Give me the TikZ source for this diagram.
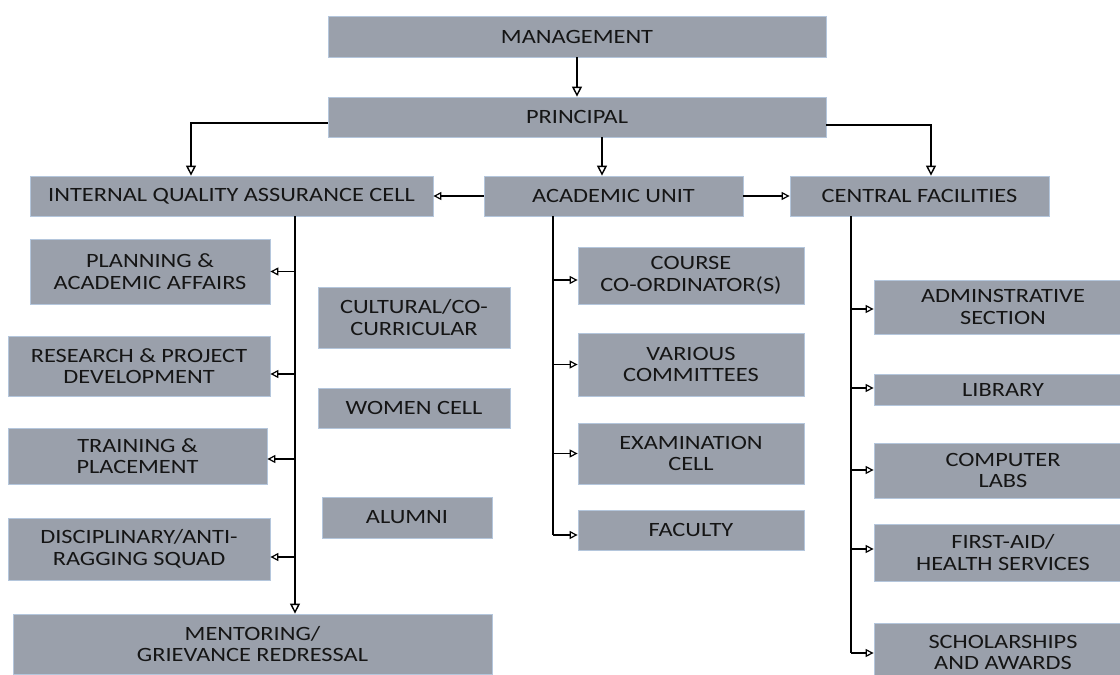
\documentclass[tikz,border=0pt]{standalone}
\usepackage{fontspec}
\setmainfont{Carlito}[FakeStretch=1.2]
\usetikzlibrary{arrows.meta}
\definecolor{boxfill}{HTML}{9AA0AB}
\definecolor{boxline}{HTML}{B4C6DC}
\definecolor{txt}{HTML}{151515}
\tikzset{
  box/.style={draw=boxline, line width=0.8pt, fill=boxfill, inner sep=0pt,
    align=center, text=txt, font=\fontsize{20.3}{21.5}\selectfont},
  mainarrow/.style={line width=1.9pt, -{Triangle[length=10pt,width=10pt,fill=white,line width=1.4pt]}},
  brancharrow/.style={line width=1.2pt, -{Triangle[length=8pt,width=8pt,fill=white,line width=1.2pt]}},
  trunk/.style={line width=1.5pt},
}
\begin{document}
\begin{tikzpicture}[x=1pt,y=-1pt]
\useasboundingbox (0,0) rectangle (1120,675);
\fill[white] (0,0) rectangle (1120,675);
\clip (0,0) rectangle (1120,675);
% top levels
\node[box, minimum width=498pt, minimum height=41pt] (mgmt) at (577,36.5) {MANAGEMENT};
\node[box, minimum width=498pt, minimum height=40pt] (prin) at (577,117) {PRINCIPAL};
\node[box, minimum width=403pt, minimum height=40pt] (iqac) at (231.5,196) {INTERNAL QUALITY ASSURANCE CELL};
\node[box, minimum width=259pt, minimum height=40pt] (au) at (613.5,196) {ACADEMIC UNIT};
\node[box, minimum width=259pt, minimum height=40pt] (cf) at (919.5,196) {CENTRAL FACILITIES};
% IQAC column
\node[box, minimum width=240pt, minimum height=65pt] (plan) at (150,271.5) {PLANNING \&\\ACADEMIC AFFAIRS};
\node[box, minimum width=262pt, minimum height=60pt] (rsch) at (139,366) {RESEARCH \& PROJECT\\DEVELOPMENT};
\node[box, minimum width=259pt, minimum height=56pt] (trn) at (137.5,456) {TRAINING \&\\PLACEMENT};
\node[box, minimum width=262pt, minimum height=62pt] (disc) at (139,549) {DISCIPLINARY/ANTI-\\RAGGING SQUAD};
\node[box, minimum width=479pt, minimum height=60pt] (ment) at (252.5,644) {MENTORING/\\GRIEVANCE REDRESSAL};
% middle free boxes
\node[box, minimum width=192pt, minimum height=61pt] (cult) at (414,317.5) {CULTURAL/CO-\\CURRICULAR};
\node[box, minimum width=192pt, minimum height=40pt] (women) at (414,408) {WOMEN CELL};
\node[box, minimum width=170pt, minimum height=41pt] (alum) at (407,517.5) {ALUMNI};
% academic unit column
\node[box, minimum width=226pt, minimum height=57pt] (course) at (691,275.5) {COURSE\\CO-ORDINATOR(S)};
\node[box, minimum width=226pt, minimum height=63pt] (var) at (691,364.5) {VARIOUS\\COMMITTEES};
\node[box, minimum width=226pt, minimum height=61pt] (exam) at (691,453.5) {EXAMINATION\\CELL};
\node[box, minimum width=226pt, minimum height=40pt] (fac) at (691,530) {FACULTY};
% central facilities column
\node[box, minimum width=258pt, minimum height=54pt] (adm) at (1003,307) {ADMINSTRATIVE\\SECTION};
\node[box, minimum width=258pt, minimum height=31pt] (lib) at (1003,389.5) {LIBRARY};
\node[box, minimum width=258pt, minimum height=55pt] (comp) at (1003,470.5) {COMPUTER\\LABS};
\node[box, minimum width=258pt, minimum height=57pt] (first) at (1003,552.5) {FIRST-AID/\\HEALTH SERVICES};
\node[box, minimum width=258pt, minimum height=59pt] (schol) at (1003,652.5) {SCHOLARSHIPS\\AND AWARDS};
% trunk coordinates
\coordinate (pl) at (191,123);
\coordinate (pr) at (931,125);
\coordinate (pm) at (602,0);
\coordinate (iqt) at (295,0);
\coordinate (aut) at (553,0);
\coordinate (cft) at (851,0);
% top connectors
\draw[mainarrow] (mgmt) -- (prin);
\draw[mainarrow] (prin.west |- pl) -| (iqac.north -| pl);
\draw[mainarrow] (prin.south -| pm) -- (au.north -| pm);
\draw[mainarrow] (prin.east |- pr) -| (cf.north -| pr);
\draw[brancharrow] (au.west) -- (iqac.east);
\draw[brancharrow] (au.east) -- (cf.west);
% IQAC trunk
\draw[mainarrow] (iqac.south -| iqt) -- (ment.north -| iqt);
\draw[brancharrow] (iqt |- plan.east) -- (plan.east);
\draw[brancharrow] (iqt |- 0,374) -- (rsch.east |- 0,374);
\draw[brancharrow] (iqt |- 0,459) -- (trn.east |- 0,459);
\draw[brancharrow] (iqt |- 0,557) -- (disc.east |- 0,557);
% academic unit trunk
\draw[trunk] (au.south -| aut) -- (aut |- 0,535);
\draw[brancharrow] (aut |- 0,280) -- (course.west |- 0,280);
\draw[brancharrow] (aut |- var.west) -- (var.west);
\draw[brancharrow] (aut |- exam.west) -- (exam.west);
\draw[brancharrow] (aut |- 0,535) -- (fac.west |- 0,535);
% central facilities trunk
\draw[trunk] (cf.south -| cft) -- (cft |- 0,653);
\draw[brancharrow] (cft |- 0,309) -- (adm.west |- 0,309);
\draw[brancharrow] (cft |- 0,388) -- (lib.west |- 0,388);
\draw[brancharrow] (cft |- 0,470) -- (comp.west |- 0,470);
\draw[brancharrow] (cft |- 0,549) -- (first.west |- 0,549);
\draw[brancharrow] (cft |- 0,653) -- (schol.west |- 0,653);
\end{tikzpicture}
\end{document}
